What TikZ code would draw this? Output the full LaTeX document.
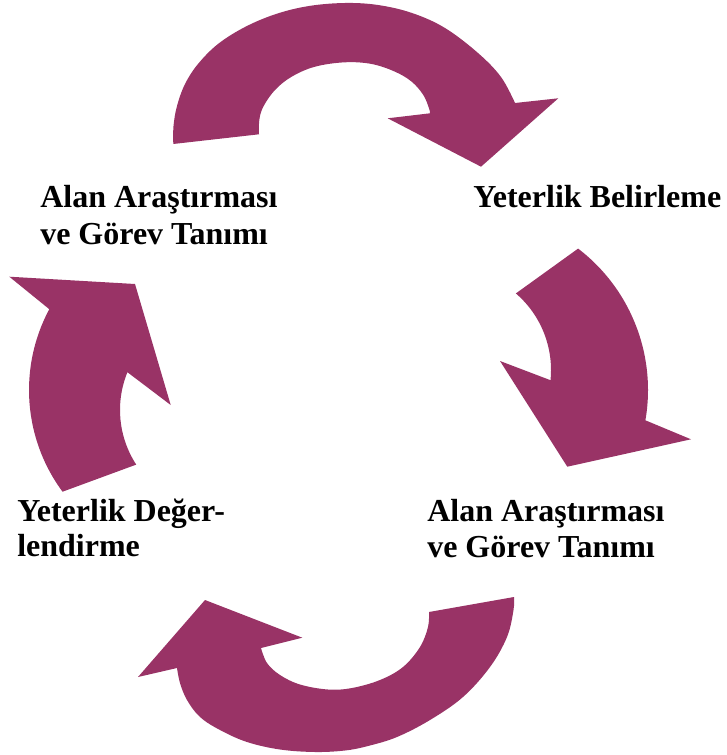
\documentclass[tikz,border=0pt]{standalone}
\usepackage{fontspec}
\setmainfont{Liberation Serif}
\definecolor{plum}{RGB}{153,51,102}
\tikzset{
  arrowfill/.style={fill=plum, draw=none},
  lbl/.style={anchor=base west, inner sep=0pt, font=\fontsize{24}{27}\selectfont\bfseries, text=black}
}
\begin{document}
\begin{tikzpicture}[x=0.75pt,y=-0.75pt]
\useasboundingbox (0,0) rectangle (726,755);

% top arrow
\fill[arrowfill] plot[smooth, tension=0.6] coordinates {(173.3,144) (173.5,126) (177,106) (185,84) (198,64) (218,44) (245,27) (276,14) (309,6) (345,3) (378,5) (412,13) (445,28) (478,53) (501,77) (515,103)}
  -- (558.3,98.3) -- (481,166.7) -- (387.7,118.3)
  -- plot[smooth, tension=0.6] coordinates {(430,113.3) (429,108.3) (423.3,95) (411.7,81.7) (395,71.7) (371.7,64) (345,62.3) (315,66.7) (291.7,76.7) (275,90) (263.3,106.7) (259.3,120) (259,134.3)}
  -- cycle;

% right arrow
\fill[arrowfill] ([shift={(470,390)}]-52.6:178) arc[start angle=-52.6, end angle=9.8, radius=178]
  -- (691,439.3) -- (567.3,466.7) -- (500,361)
  -- ([shift={(450,370)}]5.8:101) arc[start angle=5.8, end angle=-49.3, radius=101]
  -- cycle;

% bottom arrow
\fill[arrowfill] plot[smooth, tension=0.6] coordinates {(177,668) (180,683) (187,700) (200,717) (220,730) (247,742) (280,749.5) (315,752) (345,750.5) (368,746) (397,737) (430,720) (463,697) (490,667) (507,637) (513.5,610) (514,597)}
  -- plot[smooth, tension=0.6] coordinates {(429,612) (428,627) (420,647) (403,667) (380,680) (352,688) (328,689.5) (300,684.5) (280,675) (267,663) (261,648)}
  -- (302.3,637.7) -- (205,600) -- (138,677)
  -- cycle;

% left arrow
\fill[arrowfill] ([shift={(200,390)}]143.5:171) arc[start angle=143.5, end angle=208.2, radius=171]
  -- (9.3,276.7) -- (135,284) -- (170.7,405)
  -- ([shift={(220,410)}]202.2:100) arc[start angle=202.2, end angle=146.9, radius=100]
  -- cycle;

% labels
\node[lbl] (tlA) at (40,208) {Alan Araştırması};
\node[lbl] (tlB) at (40,244) {ve Görev Tanımı};
\node[lbl] (tr) at (473,208) {Yeterlik Belirleme};
\node[lbl] (brA) at (427,521.5) {Alan Araştırması};
\node[lbl] (brB) at (427,557) {ve Görev Tanımı};
\node[lbl] (blA) at (17,521.5) {Yeterlik Değer-};
\node[lbl] (blB) at (17,556) {lendirme};
\end{tikzpicture}
\end{document}
